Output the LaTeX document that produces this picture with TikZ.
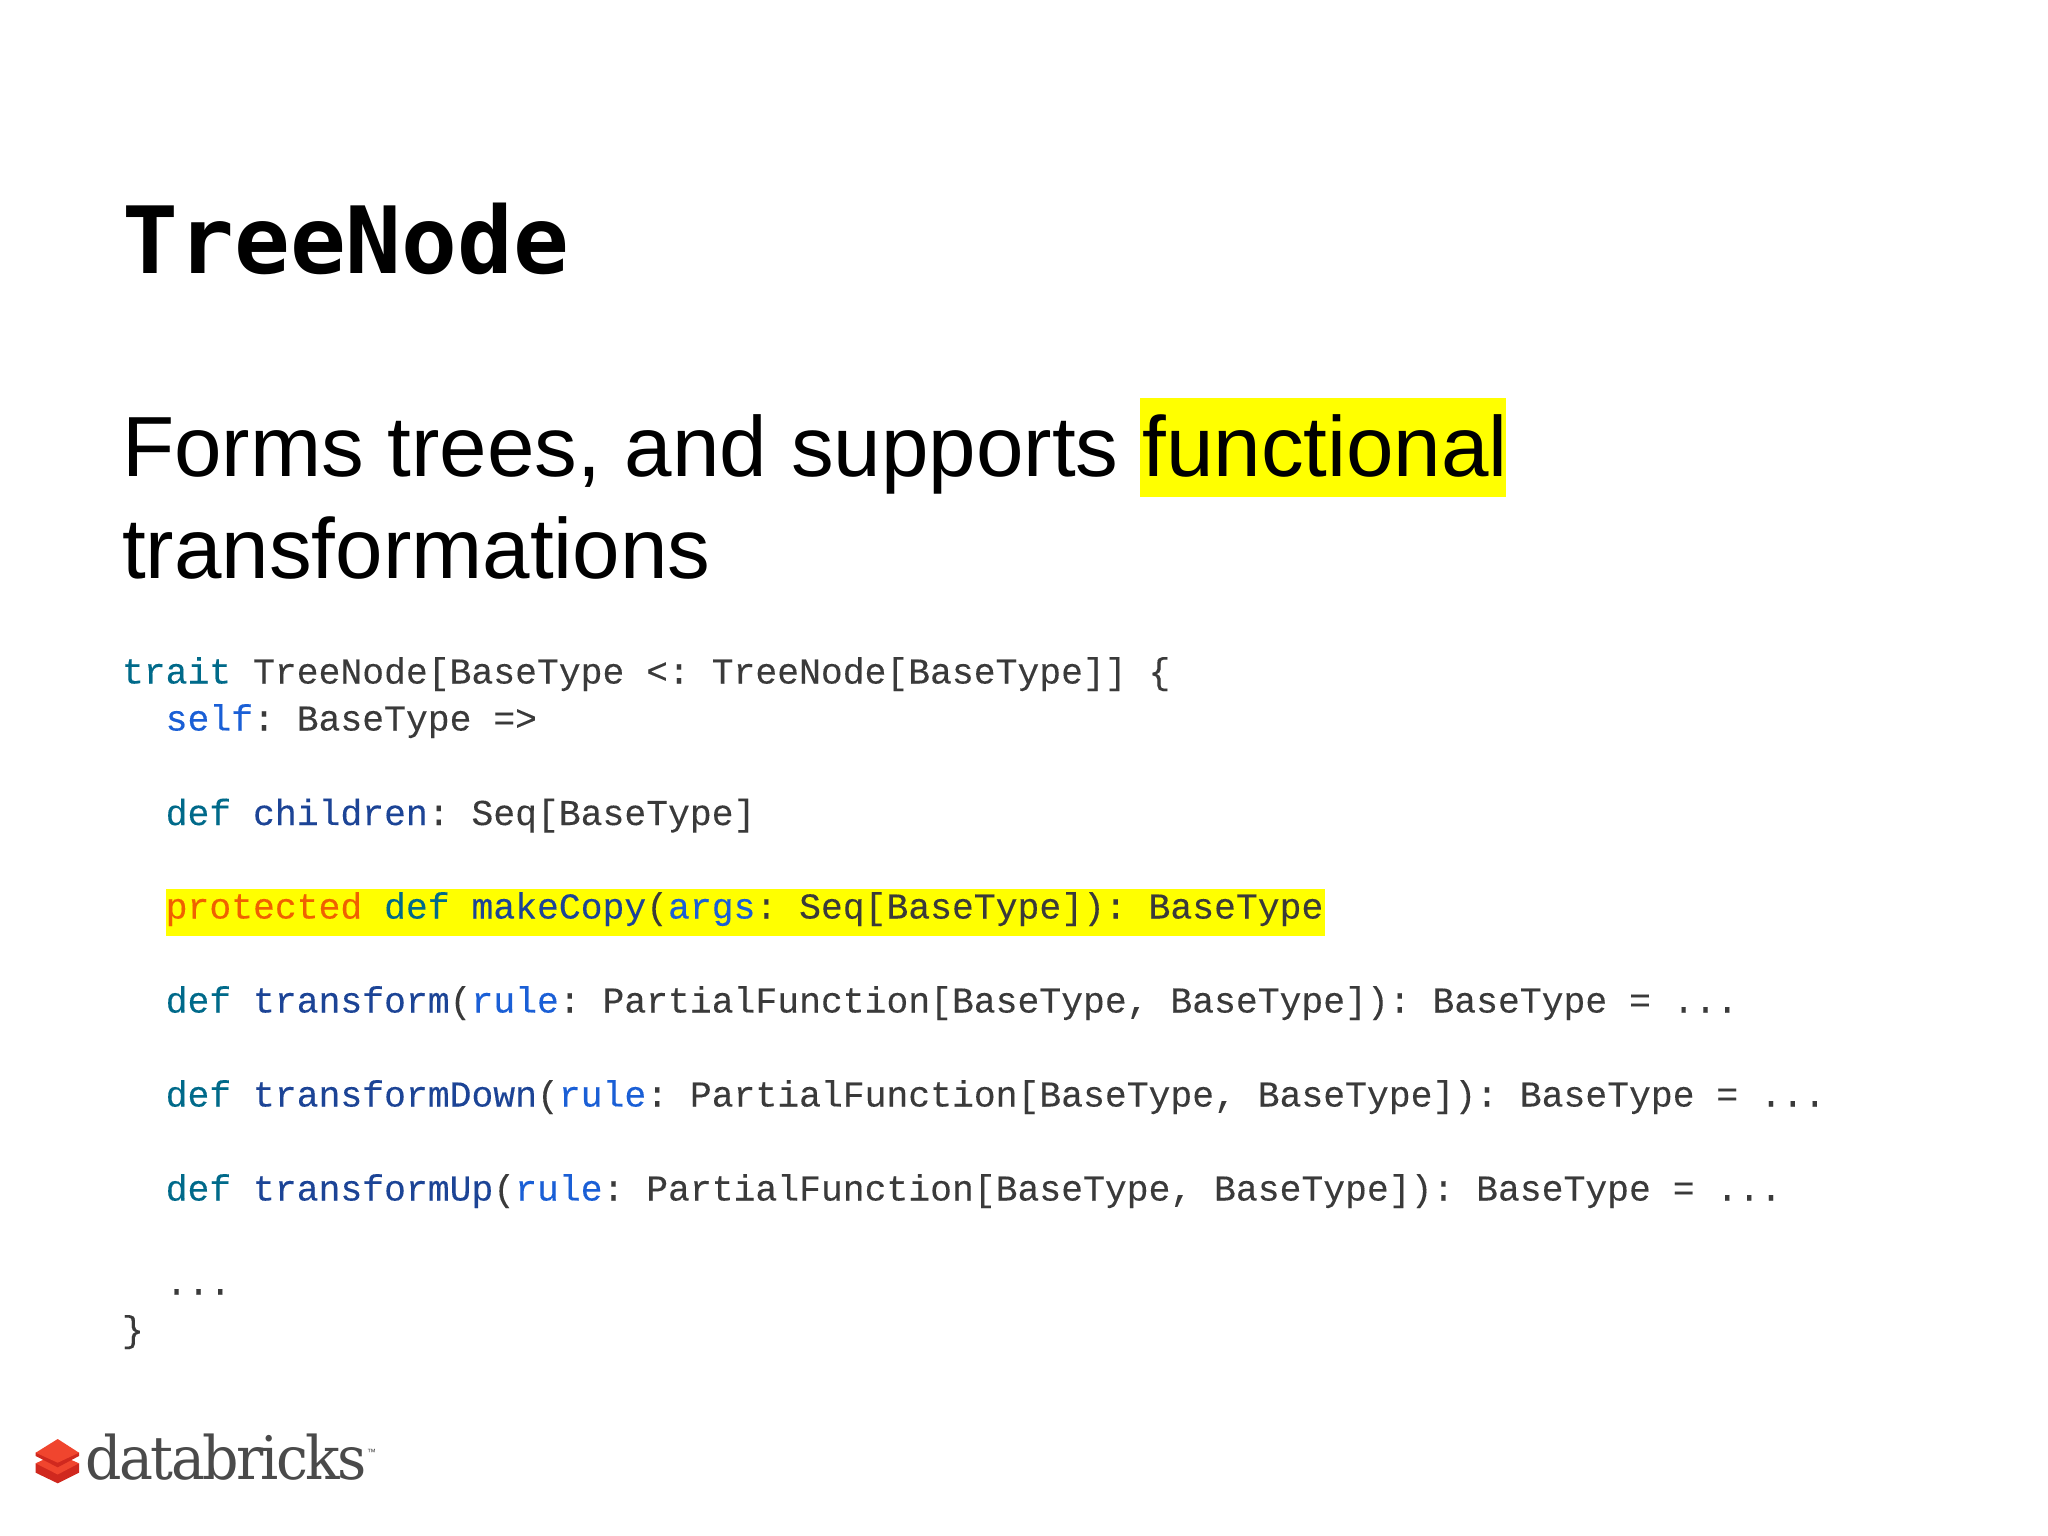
\documentclass[tikz,border=0pt]{standalone}
\usepackage{fontspec}
\setmainfont{Liberation Sans}
\newfontfamily\codefont{Liberation Mono}[FakeBold=0.2]
\newfontfamily\titlefont{DejaVu Sans Mono}
\newfontfamily\logofont{DejaVu Serif}[FakeStretch=0.95,LetterSpace=-4.4]
\definecolor{kw}{HTML}{006A8A}
\definecolor{fn}{HTML}{1C4496}
\definecolor{vr}{HTML}{1A5FD6}
\definecolor{tx}{HTML}{3A3A3A}
\definecolor{hl}{HTML}{FFFF00}
\definecolor{pr}{HTML}{F06000}
\definecolor{logotx}{HTML}{4A4A4A}
\definecolor{brickL}{HTML}{F0452E}
\definecolor{brickD}{HTML}{D0281E}
\tikzset{
  txt/.style={anchor=base west,inner sep=0pt,outer sep=0pt},
  headline/.style={txt,font=\titlefont\bfseries\fontsize{92.8}{92.8}\selectfont,text=black},
  bodyline/.style={txt,font=\fontsize{85.4}{85.4}\selectfont,text=black},
  codeline/.style={txt,font=\codefont\frenchspacing\fontsize{36.4}{36.4}\selectfont,text=tx},
}
\newcommand{\kw}[1]{\textcolor{kw}{#1}}
\newcommand{\fn}[1]{\textcolor{fn}{#1}}
\newcommand{\vr}[1]{\textcolor{vr}{#1}}
\newcommand{\cc}{\hspace*{43.7pt}}
\begin{document}
\begin{tikzpicture}[x=1pt,y=-1pt]
\useasboundingbox (0,0) rectangle (2048,1536);
\fill[white] (0,0) rectangle (2048,1536);
\fill[hl] (1140,398) rectangle (1506,497);
\fill[hl] (166,889) rectangle (1325,936);
\node[headline] (title) at (122.5,273) {TreeNode};
\node[bodyline] (l1) at (122,476) {Forms trees, and supports functional};
\node[bodyline] (l2) at (122,578) {transformations};
\node[codeline] (c1) at (122,683.5) {\kw{trait} TreeNode[BaseType <: TreeNode[BaseType]] \{};
\node[codeline] (c2) at (122,730.5) {\cc\vr{self}: BaseType =>};
\node[codeline] (c3) at (122,825) {\cc\kw{def} \fn{children}: Seq[BaseType]};
\node[codeline] (c4) at (122,918.5) {\cc\textcolor{pr}{protected} \kw{def} \fn{makeCopy}(\vr{args}: Seq[BaseType]): BaseType};
\node[codeline] (c5) at (122,1012.5) {\cc\kw{def} \fn{transform}(\vr{rule}: PartialFunction[BaseType, BaseType]): BaseType = ...};
\node[codeline] (c6) at (122,1106.5) {\cc\kw{def} \fn{transformDown}(\vr{rule}: PartialFunction[BaseType, BaseType]): BaseType = ...};
\node[codeline] (c7) at (122,1200.5) {\cc\kw{def} \fn{transformUp}(\vr{rule}: PartialFunction[BaseType, BaseType]): BaseType = ...};
\node[codeline] (c8) at (122,1294.5) {\cc...};
\node[codeline] (c9) at (122,1341.5) {\}};
% logo
\fill[brickD] (35.7,1463.3) -- (35.7,1472.7) -- (57.7,1483.3) -- (79,1472.7) -- (79,1463.3) -- cycle;
\fill[brickL] (35.7,1463.3) -- (46,1458.5) -- (68,1458.5) -- (79,1463.3) -- (57.7,1474.5) -- cycle;
\fill[brickD] (35.7,1452.7) -- (35.7,1456) -- (57.7,1467.3) -- (79,1456) -- (79,1452.7) -- cycle;
\fill[brickL] (35.7,1452.7) -- (57.7,1439) -- (79,1452.7) -- (57.7,1462.7) -- cycle;
\node[txt,font=\logofont\fontsize{60}{60}\selectfont,text=logotx] (logo) at (85.5,1479) {databricks};
\node[txt,font=\fontsize{9}{9}\selectfont,text=logotx] (tm) at (367,1455) {™};
\end{tikzpicture}
\end{document}
